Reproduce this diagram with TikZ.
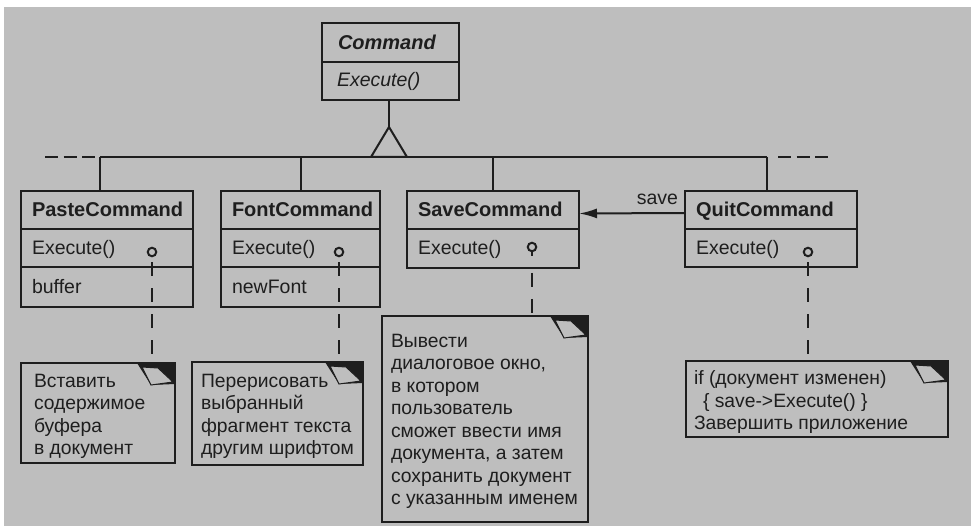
\documentclass[tikz,border=0pt]{standalone}
\usepackage{fontspec}
\setmainfont{Liberation Sans}
\usetikzlibrary{arrows.meta}
\definecolor{paper}{RGB}{190,190,190}
\definecolor{ink}{RGB}{30,30,30}
\newcommand\notefold[1]{%
  \fill[ink] ([shift={(-38,0)}]#1.north east) -- (#1.north east) -- ([shift={(0,21)}]#1.north east) -- ([shift={(-24,22)}]#1.north east) -- cycle;
  \filldraw[fill=paper, draw=ink, line width=1pt] ([shift={(-33,4)}]#1.north east) -- ([shift={(-17,5)}]#1.north east) -- ([shift={(-2,19)}]#1.north east) -- ([shift={(-24,22)}]#1.north east) -- cycle;}
\begin{document}
\begin{tikzpicture}[x=1pt,y=-1pt,color=ink,line width=2pt,
  cls/.style={draw, line width=2pt, fill=paper, inner sep=0, outer sep=0, anchor=north west},
  ttl/.style={font=\fontsize{20}{24}\selectfont\bfseries, anchor=base west, inner sep=0},
  op/.style={font=\fontsize{19.5}{23}\selectfont, anchor=base west, inner sep=0},
  ntext/.style={font=\fontsize{19.3}{22.5}\selectfont, align=left, anchor=north west, inner sep=0},
  dsh/.style={line width=2.2pt, dash pattern=on 14pt off 12pt},
  ext/.style={line width=2pt, dash pattern=on 13pt off 5.5pt},
  lolly/.style={circle, draw, line width=2pt, minimum size=8.5pt, inner sep=0, outer sep=0, fill=paper}]
\fill[white] (0,0) rectangle (971,526);
\fill[paper] (4,7) rectangle (971,526);
\useasboundingbox (0,0) rectangle (971,526);

% abstract class
\node[cls, minimum width=137pt, minimum height=77pt] (cmd) at (322,23) {};
\draw (322,62) -- (459,62);
\node[ttl, font=\fontsize{20}{24}\selectfont\bfseries\itshape] (cmdT) at (337,50) {Command};
\node[op, font=\fontsize{19.5}{23}\selectfont\itshape] (cmdE) at (336,87) {Execute()};

% subclasses
\node[cls, minimum width=172pt, minimum height=116pt] (paste) at (21,191) {};
\draw (21,229) -- (193,229); \draw (21,267) -- (193,267);
\node[ttl] (pasteT) at (31,217) {PasteCommand};
\node[op] (pasteE) at (31,255) {Execute()};
\node[op] (pasteA) at (31,294) {buffer};

\node[cls, minimum width=159pt, minimum height=116pt] (font) at (221,191) {};
\draw (221,229) -- (380,229); \draw (221,267) -- (380,267);
\node[ttl] (fontT) at (231,217) {FontCommand};
\node[op] (fontE) at (231,255) {Execute()};
\node[op] (fontA) at (231,294) {newFont};

\node[cls, minimum width=172pt, minimum height=77pt] (save) at (407,191) {};
\draw (407,229) -- (579,229);
\node[ttl] (saveT) at (417,217) {SaveCommand};
\node[op] (saveE) at (417,255) {Execute()};

\node[cls, minimum width=172pt, minimum height=76pt] (quit) at (685,191) {};
\draw (685,229) -- (857,229);
\node[ttl] (quitT) at (695,217) {QuitCommand};
\node[op] (quitE) at (695,255) {Execute()};

% inheritance
\coordinate (apex) at (389,127);
\coordinate (hl) at (100,157);
\coordinate (hr) at (767,157);
\draw (cmd.south -| apex) -- (apex);
\draw (hl) -- (hr);
\filldraw[fill=paper] (apex) -- (407,157) -- (371,157) -- cycle;
\draw (hl) -- (hl |- paste.north);
\draw (font.north |- hl) -- (font.north);
\draw (save.north |- hl) -- (save.north);
\draw (hr) -- (hr |- quit.north);
\coordinate (el1) at (45,157); \coordinate (el2) at (96,157);
\coordinate (er1) at (778,157); \coordinate (er2) at (829,157);
\draw[ext] (el1) -- (el2);
\draw[ext] (er1) -- (er2);

% association
\draw[line width=2pt, -{Latex[length=18pt,width=10pt]}] ([yshift=16pt]quit.west) -- ([yshift=16pt]save.east);
\node[op, anchor=base east] (savelbl) at (679,205) {save};

% notes
\node[cls, minimum width=154pt, minimum height=100pt] (pnote) at (21,363) {};
\node[cls, minimum width=171pt, minimum height=103pt] (fnote) at (192,362) {};
\node[cls, minimum width=206pt, minimum height=206pt] (snote) at (382,316) {};
\node[cls, minimum width=262pt, minimum height=76pt] (qnote) at (686,361) {};
\node[ntext] (pnoteT) at (33,373) {Вставить\\содержимое\\буфера\\в документ};
\node[ntext] (fnoteT) at (200,373) {Перерисовать\\выбранный\\фрагмент текста\\другим шрифтом};
\node[ntext] (snoteT) at (390,333) {Вывести\\диалоговое окно,\\в котором\\пользователь\\сможет ввести имя\\документа, а затем\\сохранить документ\\с указанным именем};
\node[ntext] (qnoteT) at (693,370) {if (документ изменен)\\\hspace*{9pt}\{ save->Execute() \}\\Завершить приложение};
\notefold{pnote}
\notefold{fnote}
\notefold{snote}
\notefold{qnote}

% note links
\node[lolly] (pc) at (152,252) {};
\node[lolly] (fc) at (339,252) {};
\node[lolly] (sc) at (532,247) {};
\node[lolly] (qc) at (808,252) {};
\coordinate (sstem) at (532,256);
\draw (sc.south) -- (sstem);
\draw[dsh, dash phase=20pt] (pc.south) -- (pc |- pnote.north);
\draw[dsh, dash phase=20pt] (fc.south) -- (fc |- fnote.north);
\draw[dsh, dash phase=21pt] (save.south -| sc) -- (sc |- snote.north);
\draw[dsh, dash phase=20pt] (qc.south) -- (qc |- qnote.north);
\end{tikzpicture}
\end{document}
